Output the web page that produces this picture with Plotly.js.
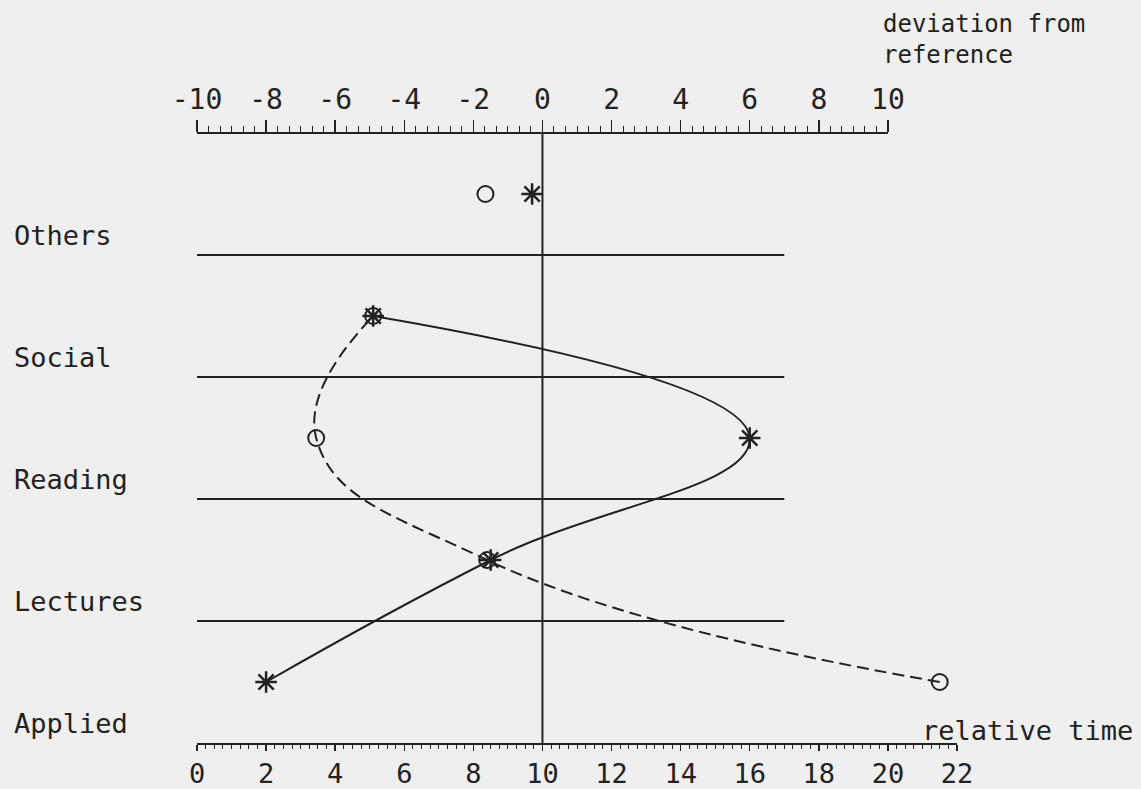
<!DOCTYPE html>
<html>
<head>
<meta charset="utf-8">
<script src="https://cdn.plot.ly/plotly-3.0.1.min.js"></script>
<style>
  html, body { margin: 0; padding: 0; background: #efefef; }
  #chart { width: 1141px; height: 789px; }
</style>
</head>
<body>
<div id="chart"></div>
<script>
// ---- data ----
const categories = ['Applied', 'Lectures', 'Reading', 'Social', 'Others'];
// relative time of the asterisk series, per category (same order as categories)
const starTime = [2.0, 8.5, 16.0, 5.1, 9.7];
// relative time of the circle series, per category
const circleTime = [21.5, 8.4, 3.45, 5.1, 8.35];
// bottom axis (relative time) tick labels
const bottomTicks = [0, 2, 4, 6, 8, 10, 12, 14, 16, 18, 20, 22];
// top axis (deviation from reference) tick labels
const topTicks = [-10, -8, -6, -4, -2, 0, 2, 4, 6, 8, 10];
// category separator lines end at this relative time
const separatorEnd = 17;
// zero of the deviation scale sits at this relative time
const referenceTime = 10;

const ink = '#222222';
const bg = '#efefef';
const mono = 'DejaVu Sans Mono, Liberation Mono, monospace';

// y position of each category = middle of its band
const catY = categories.map((c, i) => i + 0.5);
const linked = 4; // first four categories are joined by curves

const traces = [
  {
    type: 'scatter', mode: 'lines+markers',
    x: starTime.slice(0, linked), y: catY.slice(0, linked),
    line: { color: ink, width: 2, shape: 'spline', smoothing: 1.3 },
    marker: { symbol: 'asterisk-open', size: 18, color: ink, line: { color: ink, width: 2.5 } },
    showlegend: false, hoverinfo: 'x+y'
  },
  {
    type: 'scatter', mode: 'lines+markers',
    x: circleTime.slice(0, linked), y: catY.slice(0, linked),
    line: { color: ink, width: 2, shape: 'spline', smoothing: 1.3, dash: '12px,6px' },
    marker: { symbol: 'circle-open', size: 16, color: ink, line: { color: ink, width: 2 } },
    showlegend: false, hoverinfo: 'x+y'
  },
  {
    type: 'scatter', mode: 'markers',
    x: starTime.slice(linked), y: catY.slice(linked),
    marker: { symbol: 'asterisk-open', size: 18, color: ink, line: { color: ink, width: 2.5 } },
    showlegend: false
  },
  {
    type: 'scatter', mode: 'markers',
    x: circleTime.slice(linked), y: catY.slice(linked),
    marker: { symbol: 'circle-open', size: 16, color: ink, line: { color: ink, width: 2 } },
    showlegend: false
  },
  // carrier for the top (deviation) axis
  { type: 'scatter', mode: 'markers', x: [], y: [], xaxis: 'x2', yaxis: 'y', showlegend: false, hoverinfo: 'skip' }
];

const bMin = bottomTicks[0], bMax = bottomTicks[bottomTicks.length - 1];
const topMinorVals = [];
for (let k = 0; k <= (topTicks[topTicks.length - 1] - topTicks[0]) * 3; k++) {
  topMinorVals.push(topTicks[0] + k / 3);
}

const shapes = [];
// separators between category bands
for (let i = 1; i < categories.length; i++) {
  shapes.push({ type: 'line', xref: 'x', yref: 'y', x0: bMin, x1: separatorEnd, y0: i, y1: i,
                line: { color: ink, width: 2 } });
}
// vertical reference line
shapes.push({ type: 'line', xref: 'x', yref: 'paper', x0: referenceTime, x1: referenceTime, y0: 0, y1: 1,
              line: { color: ink, width: 2 } });
// top axis base line
shapes.push({ type: 'line', xref: 'x2', yref: 'paper', x0: topTicks[0], x1: topTicks[topTicks.length - 1], y0: 1, y1: 1,
              line: { color: ink, width: 2 } });

const L = 197, R = 957, T = 133, B = 743;
const W = 1141, H = 789;
const px = v => (v - L) / (R - L);
const py = v => (B - v) / (B - T);

const annotations = categories.map((c, i) => ({
  text: c, xref: 'paper', yref: 'y', x: px(12), y: i + 0.16, xanchor: 'left', yanchor: 'middle',
  showarrow: false, font: { family: mono, size: 27, color: ink }
}));
annotations.push({
  text: 'deviation from<br>reference', xref: 'paper', yref: 'paper', x: px(881), y: py(8),
  xanchor: 'left', yanchor: 'top', align: 'left', showarrow: false,
  font: { family: mono, size: 24, color: ink }
});
annotations.push({
  text: 'relative time', xref: 'paper', yref: 'paper', x: px(1135), y: py(730),
  xanchor: 'right', yanchor: 'middle', showarrow: false,
  font: { family: mono, size: 27, color: ink }
});

const layout = {
  width: W, height: H,
  margin: { l: L, r: W - R, t: T, b: H - B, pad: 0 },
  paper_bgcolor: bg, plot_bgcolor: bg,
  showlegend: false,
  xaxis: {
    range: [bMin, bMax], fixedrange: true,
    showgrid: false, zeroline: false,
    showline: true, linecolor: ink, linewidth: 2,
    tickmode: 'array', tickvals: bottomTicks, ticktext: bottomTicks.map(String),
    ticks: 'outside', ticklen: 6, tickwidth: 1.5, tickcolor: ink,
    tickfont: { family: mono, size: 27, color: ink },
    minor: { tickmode: 'linear', tick0: 0, dtick: 0.25, ticks: 'outside', ticklen: 4, tickwidth: 1, tickcolor: ink, showgrid: false }
  },
  xaxis2: {
    overlaying: 'x', side: 'top', anchor: 'y',
    range: [bMin - referenceTime, bMax - referenceTime], fixedrange: true,
    showgrid: false, zeroline: false, showline: false,
    tickmode: 'array', tickvals: topTicks, ticktext: topTicks.map(String),
    ticks: 'outside', ticklen: 12, tickwidth: 1.5, tickcolor: ink,
    tickfont: { family: mono, size: 28, color: ink },
    minor: { tickmode: 'array', tickvals: topMinorVals, ticks: 'outside', ticklen: 6, tickwidth: 1, tickcolor: ink, showgrid: false }
  },
  yaxis: {
    range: [0, categories.length], visible: false, fixedrange: true, showgrid: false, zeroline: false
  },
  shapes: shapes,
  annotations: annotations
};

Plotly.newPlot('chart', traces, layout, { displayModeBar: false, staticPlot: true });
</script>
</body>
</html>
